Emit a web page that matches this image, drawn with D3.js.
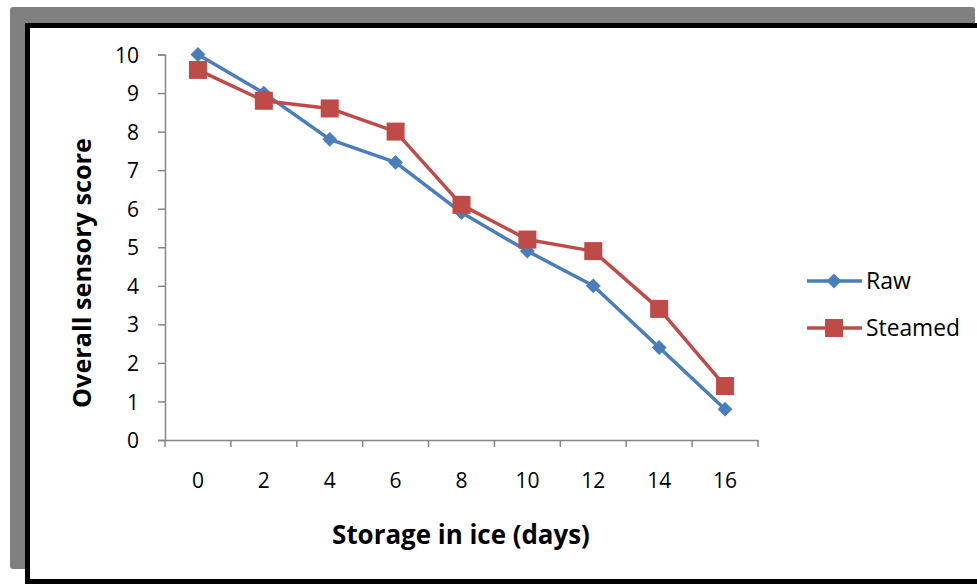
<!DOCTYPE html>
<html><head><meta charset="utf-8">
<script src="https://cdn.jsdelivr.net/npm/d3@7"></script>
<style>body{margin:0;background:#fff}svg{display:block}</style>
</head><body><svg id="c" width="977" height="584"></svg>
<script>
const days = ["0","2","4","6","8","10","12","14","16"];
const raw = [10, 9, 7.8, 7.2, 5.9, 4.9, 4.0, 2.4, 0.8];
const steamed = [9.6, 8.8, 8.6, 8.0, 6.1, 5.2, 4.9, 3.4, 1.4];
const yTicks = [0,1,2,3,4,5,6,7,8,9,10];
const seriesNames = ["Raw","Steamed"];
const colors = ["#4A7EBB","#BE4B48"];

const svg = d3.select("#c");
const font = "'Open Sans', sans-serif";
function fit(t, w){ const n=t.node(); const fs=+t.attr("font-size"); const L=n.getComputedTextLength(); t.attr("font-size", fs*w/L); }
// frame
svg.append("rect").attr("x",10).attr("y",7).attr("width",965).attr("height",562).attr("rx",3).attr("fill","#808080");
svg.append("rect").attr("x",27.5).attr("y",25.5).attr("width",960).attr("height",556).attr("fill","#fff").attr("stroke","#000").attr("stroke-width",5);

const x = d3.scaleBand().domain(days).range([165,758]);
const y = d3.scaleLinear().domain([0,10]).range([440,54.5]);

const axC = "#868686";
const gy = svg.append("g").attr("transform","translate(165,0)")
  .call(d3.axisLeft(y).tickValues(yTicks).tickSize(7).tickPadding(26).tickFormat(d3.format("d")));
const gx = svg.append("g").attr("transform","translate(0,440)")
  .call(d3.axisBottom(x).tickSize(0).tickPadding(30));
const bounds = days.map(d=>x(d)).concat([x.range()[1]]);
svg.append("g").selectAll("line").data(bounds).join("line")
  .attr("x1",d=>d).attr("x2",d=>d).attr("y1",440).attr("y2",447).attr("stroke",axC).attr("stroke-width",1.5);
[gy,gx].forEach(g=>{
  g.selectAll("path").attr("stroke",axC).attr("stroke-width",1.5);
  g.selectAll("line").attr("stroke",axC).attr("stroke-width",1.5);
  g.selectAll("text").attr("font-family",font).attr("font-size",21).attr("fill","#000");
});
gy.selectAll(".tick text").attr("text-anchor","end").attr("x",-26).attr("dy","0.36em");
gx.selectAll(".tick text").attr("dy","0.36em").attr("y",40);

const line = d3.line().x((d,i)=>x(days[i])+x.bandwidth()/2).y(d=>y(d));
const data = [raw, steamed];
data.forEach((s,k)=>{
  svg.append("path").datum(s).attr("d",line).attr("fill","none").attr("stroke",colors[k]).attr("stroke-width",3.5).attr("stroke-linejoin","round");
});
function marker(g,k,cx,cy){
  if(k===0){
    g.append("path").attr("d",d3.symbol().type(d3.symbolSquare).size(110)()).attr("transform",`translate(${cx},${cy}) rotate(45)`).attr("fill",colors[0]);
  } else {
    g.append("rect").attr("x",cx-9).attr("y",cy-9).attr("width",18).attr("height",18).attr("fill",colors[1]);
  }
}
data.forEach((s,k)=>{
  const g = svg.append("g");
  s.forEach((v,i)=>marker(g,k,x(days[i])+x.bandwidth()/2,y(v)));
});

// legend
seriesNames.forEach((n,k)=>{
  const ly = 281 + k*47;
  svg.append("line").attr("x1",807).attr("x2",862).attr("y1",ly).attr("y2",ly).attr("stroke",colors[k]).attr("stroke-width",3.5);
  marker(svg,k,834,ly);
  const t = svg.append("text").attr("x",866).attr("y",ly).attr("dy","0.36em").attr("font-family",font).attr("font-size",20).text(n);
  if(k===1) fit(t,94);
  else fit(t,45);
});

// axis titles
const xt = svg.append("text").attr("x",461).attr("y",535).attr("dy","0.36em").attr("text-anchor","middle")
  .attr("font-family",font).attr("font-weight","bold").attr("font-size",24).text("Storage in ice (days)");
fit(xt,258);
const yt = svg.append("text").attr("transform","translate(82,273) rotate(-90)").attr("dy","0.36em").attr("text-anchor","middle")
  .attr("font-family",font).attr("font-weight","bold").attr("font-size",24).text("Overall sensory score");
fit(yt,270);
</script></body></html>
